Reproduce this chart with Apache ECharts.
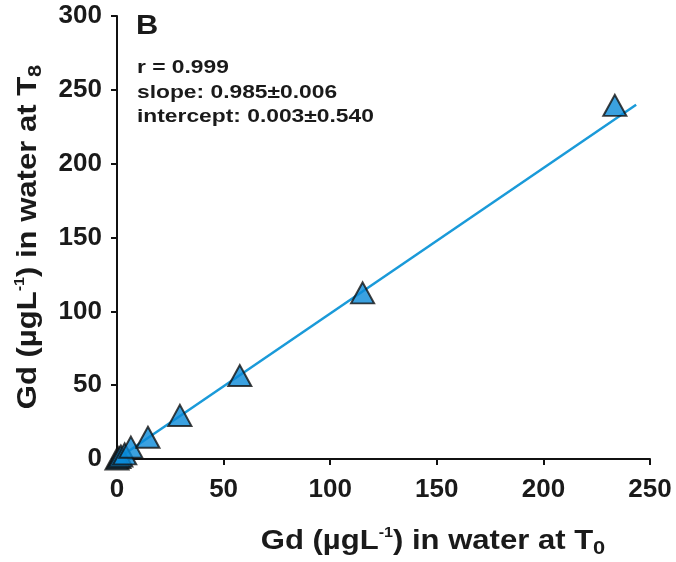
<!DOCTYPE html>
<html>
<head>
<meta charset="utf-8">
<script src="https://cdn.jsdelivr.net/npm/echarts@6/dist/echarts.min.js"></script>
<style>
  html, body { margin: 0; padding: 0; background: #fff; }
  #chart { width: 676px; height: 562px; }
</style>
</head>
<body>
<div id="chart"></div>
<script>
// Gd concentration in water: T0 versus T8
const gdT0 = [0, 0.9, 1.8, 3.6, 6.5, 14.5, 29.5, 57.6, 115.2, 233.5];
const gdT8 = [0, 1.0, 2.0, 3.5, 8.0, 14.7, 29.5, 56.5, 112.5, 239.5];

// Fit statistics
const fitR = 0.999;
const fitSlope = 0.985;
const fitSlopeErr = 0.006;
const fitIntercept = 0.003;
const fitInterceptErr = 0.540;
const fitXRange = [0, 243.5];

const xTicks = [0, 50, 100, 150, 200, 250];
const yTicks = [0, 50, 100, 150, 200, 250, 300];

const points = gdT0.map((x, i) => [x, gdT8[i]]);
const fitLine = fitXRange.map(x => [x, fitSlope * x + fitIntercept]);

const FONT = '"Liberation Sans", Arial, sans-serif';
const INK = '#1a1a1a';

// rich text styles for axis titles with super/subscripts
const titleRich = {
  m: { fontFamily: FONT, fontWeight: 'bold', fontSize: 27, fill: INK, verticalAlign: 'middle' },
  sup: { fontFamily: FONT, fontWeight: 'bold', fontSize: 14, fill: INK, verticalAlign: 'top', padding: [0, 0, 13, 0] },
  sub: { fontFamily: FONT, fontWeight: 'bold', fontSize: 19, fill: INK, verticalAlign: 'bottom', padding: [13, 0, 0, 0] }
};

const chart = echarts.init(document.getElementById('chart'));

chart.setOption({
  animation: false,
  backgroundColor: '#ffffff',
  grid: { left: 117, right: 26, top: 16, bottom: 103, containLabel: false },
  xAxis: {
    type: 'value',
    min: xTicks[0], max: xTicks[xTicks.length - 1], interval: 50,
    axisLine: { show: true, onZero: false, lineStyle: { color: '#111', width: 2 } },
    axisTick: { show: true, length: 6, lineStyle: { color: '#111', width: 2 } },
    axisLabel: { margin: 18, color: INK, fontFamily: FONT, fontWeight: 'bold', fontSize: 26 },
    splitLine: { show: false }
  },
  yAxis: {
    type: 'value',
    min: yTicks[0], max: yTicks[yTicks.length - 1], interval: 50,
    axisLine: { show: true, onZero: false, lineStyle: { color: '#111', width: 2 } },
    axisTick: { show: true, length: 6, lineStyle: { color: '#111', width: 2 } },
    axisLabel: { margin: 15, color: INK, fontFamily: FONT, fontWeight: 'bold', fontSize: 26 },
    splitLine: { show: false }
  },
  graphic: [
    {
      type: 'text', x: 433, y: 542, scaleX: 1.15,
      style: {
        text: '{m|Gd (µgL}{sup|-1}{m|) in water at T}{sub|0}',
        align: 'center', verticalAlign: 'middle',
        rich: titleRich
      }
    },
    {
      type: 'text', x: 29, y: 237, rotation: Math.PI / 2, scaleX: 1.15,
      style: {
        text: '{m|Gd (µgL}{sup|-1}{m|) in water at T}{sub|8}',
        align: 'center', verticalAlign: 'middle',
        rich: titleRich
      }
    },
    {
      type: 'text', x: 136, y: 12, scaleX: 1.1,
      style: { text: 'B', fontFamily: FONT, fontWeight: 'bold', fontSize: 28, fill: INK }
    },
    {
      type: 'text', x: 137, y: 56, scaleX: 1.2,
      style: {
        text: 'r = ' + fitR.toFixed(3) + '\nslope: ' + fitSlope.toFixed(3) + '±' + fitSlopeErr.toFixed(3) +
              '\nintercept: ' + fitIntercept.toFixed(3) + '±' + fitInterceptErr.toFixed(3),
        fontFamily: FONT, fontWeight: 'bold', fontSize: 19, lineHeight: 24.5, fill: INK
      }
    }
  ],
  series: [
    {
      type: 'line',
      data: fitLine,
      symbol: 'none',
      lineStyle: { color: '#1a9ad9', width: 2.5 },
      z: 2
    },
    {
      type: 'scatter',
      data: points,
      symbol: 'triangle',
      symbolSize: [23, 21],
      itemStyle: { color: '#0a8ad8', borderColor: '#111', borderWidth: 2 },
      z: 3
    }
  ]
});
</script>
</body>
</html>
